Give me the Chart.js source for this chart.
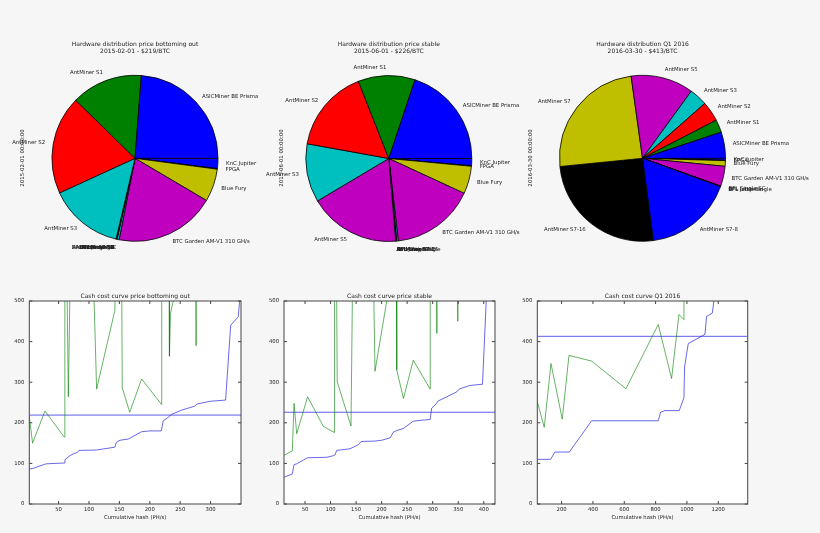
<!DOCTYPE html>
<html>
<head>
<meta charset="utf-8">
<script src="https://cdn.jsdelivr.net/npm/chart.js@4"></script>
<style>
html, body { margin: 0; padding: 0; background: #f6f6f6; }
#wrap { position: relative; width: 820px; height: 533px; overflow: hidden; }
canvas { position: absolute; }
</style>
</head>
<body>
<div id="wrap">
  <canvas id="pie1"></canvas>
  <canvas id="pie2"></canvas>
  <canvas id="pie3"></canvas>
  <canvas id="cost1"></canvas>
  <canvas id="cost2"></canvas>
  <canvas id="cost3"></canvas>
</div>
<script>
// ---- data ----
const hwLabels = ['ASICMiner BE Prisma', 'AntMiner S1', 'AntMiner S2', 'AntMiner S3', 'AntMiner S5',
  'AntMiner S7', 'AntMiner S7-16', 'AntMiner S7-8', 'BFL Jalapeno', 'BFL Little Single', 'BFL Single SC',
  'BTC Garden AM-V1 310 GH/s', 'Blue Fury', 'FPGA', 'KnC Jupiter'];

const share1 = [23.8, 13.9, 19.2, 14.5, 0, 0, 0, 0, 0.1, 0.1, 0.4, 19.6, 6.4, 0.1, 2.0];
const share2 = [19.9, 11.1, 16.2, 11.4, 17.8, 0, 0, 0, 0.1, 0.1, 0.3, 16.3, 5.4, 0.1, 1.4];
const share3 = [5.1, 2.5, 3.9, 3.5, 12.2, 24.4, 25.5, 17.4, 0.03, 0.03, 0.03, 3.9, 1.1, 0.05, 0.4];

const pieTitles = ['Hardware distribution price bottoming out', 'Hardware distribution price stable', 'Hardware distribution Q1 2016'];
const pieSubtitles = ['2015-02-01 - $219/BTC', '2015-06-01 - $226/BTC', '2016-03-30 - $413/BTC'];
const pieDates = ['2015-02-01 00:00:00', '2015-06-01 00:00:00', '2016-03-30 00:00:00'];

const cost1X = [1.8, 8.3, 27.5, 30, 59.3, 60.4, 68.6, 75, 81, 83.4, 112.5, 142.6, 145, 151, 164.6, 186.5, 200, 219, 222, 230, 236, 252, 274, 277, 299, 324.7, 333, 345.5, 348, 350];
const cost1Y = [86, 88, 98, 99, 101, 109, 119, 124, 127, 132, 133, 140, 152, 157, 160, 178, 180, 180, 205, 213, 221, 231, 241, 246, 253, 256, 440, 461, 505, 600];
const green1X = [1.8, 7.2, 27.5, 59.3, 60.3, 63.3, 66, 69.5, 106.5, 112.5, 142.6, 143, 153.6, 154.7, 167, 186.5, 219.4, 219.6, 231.8, 232.3, 234, 253, 275.8, 276, 276.3, 350];
const green1Y = [215, 150, 229, 165, 600, 600, 264, 600, 600, 283, 477, 600, 600, 286, 226, 308, 245, 600, 600, 364, 469, 600, 600, 390, 600, 600];

const cost2X = [8.8, 25.2, 28.4, 33.7, 53.3, 56.5, 92.5, 105.5, 108.8, 112, 118.6, 138, 154.5, 159.7, 187, 200, 216.6, 223, 229.6, 242.7, 262, 275, 295, 298, 304.7, 311, 327.6, 347, 351.8, 373, 397.5, 405, 422];
const cost2Y = [66, 74, 97, 99, 113, 114, 115, 119, 121, 132, 133, 136, 146, 154, 155, 157, 163, 177, 181, 186, 204, 206, 208, 236, 244, 254, 264, 276, 283, 292, 295, 505, 600];
const green2X = [8.8, 25.2, 28.4, 33.7, 55, 86, 107.5, 107.8, 111.5, 113, 140, 143.5, 183.5, 187, 214, 229, 229.6, 242.7, 262, 295, 295.2, 307.8, 308, 308.3, 348.8, 349, 349.3, 422];
const green2Y = [120, 131, 248, 173, 264, 191, 176, 600, 600, 301, 192, 600, 600, 327, 530, 600, 330, 260, 354, 283, 600, 600, 420, 600, 600, 450, 600, 600];

const cost3X = [44.7, 129.8, 157.4, 249, 391.5, 817, 832, 859.6, 951, 981, 985, 1008.5, 1115, 1125.5, 1161.7, 1174, 1388];
const cost3Y = [110, 110, 128, 128, 205, 205, 226, 230, 230, 262, 338, 395, 418, 462, 470, 505, 600];
const green3X = [44.7, 89, 132, 204, 246.8, 391.5, 610.6, 817, 902, 949, 981, 981.5, 1388];
const green3Y = [252, 189, 346, 209, 366, 352, 284, 442, 309, 467, 454, 600, 600];

const prices = [219, 226, 413];
const costTitles = ['Cash cost curve price bottoming out', 'Cash cost curve price stable', 'Cash cost curve Q1 2016'];
const xTicks1 = [50, 100, 150, 200, 250, 300];
const xTicks2 = [50, 100, 150, 200, 250, 300, 350, 400];
const xTicks3 = [200, 400, 600, 800, 1000, 1200];
const yTicks = [0, 100, 200, 300, 400, 500];

// ---- styling ----
const FONT = 'DejaVu Sans';
const mplColors = ['#0000ff', '#008000', '#ff0000', '#00bfbf', '#bf00bf', '#bfbf00', '#000000'];

function place(id, left, top, w, h) {
  const c = document.getElementById(id);
  c.width = w; c.height = h;
  c.style.left = left + 'px'; c.style.top = top + 'px';
  return c;
}

// labels, titles and rotated date for the pies
const pieText = {
  id: 'pieText',
  afterDraw(chart, args, o) {
    const ctx = chart.ctx;
    const meta = chart.getDatasetMeta(0);
    const labels = chart.data.labels;
    ctx.save();
    ctx.fillStyle = '#222';
    ctx.font = '5.4px "' + FONT + '"';
    ctx.textBaseline = 'middle';
    meta.data.forEach((arc, i) => {
      const p = arc.getProps(['x', 'y', 'startAngle', 'endAngle', 'outerRadius'], true);
      const mid = (p.startAngle + p.endAngle) / 2;
      const c = Math.cos(mid), s = Math.sin(mid);
      ctx.textAlign = c > 0 ? 'left' : 'right';
      ctx.fillText(labels[i], p.x + c * p.outerRadius * 1.1, p.y + s * p.outerRadius * 1.1);
    });
    ctx.textAlign = 'center';
    ctx.font = '6px "' + FONT + '"';
    ctx.fillText(o.title, o.cx, 14);
    ctx.fillText(o.subtitle, o.cx, 21.7);
    ctx.font = '5.4px "' + FONT + '"';
    ctx.translate(o.ylabelX, 128);
    ctx.rotate(-Math.PI / 2);
    ctx.fillText(o.ylabel, 0, 0);
    ctx.restore();
  }
};

function pieChart(id, box, values, idx) {
  const top = 30, height = 240, bw = 0.8;
  const side = 2 * box.r + bw;
  const padLeft = box.cx - box.left - side / 2;
  const padTop = box.cy - top - side / 2;
  const canvas = place(id, box.left, top, box.width, height);
  const colors = hwLabels.map((l, i) => mplColors[i % mplColors.length]);
  new Chart(canvas, {
    type: 'pie',
    data: {
      // matplotlib goes counter-clockwise from 3 o'clock, so feed the slices reversed
      labels: hwLabels.slice().reverse(),
      datasets: [{
        data: values.slice().reverse(),
        backgroundColor: colors.slice().reverse(),
        borderColor: '#000',
        borderWidth: bw,
        hoverOffset: 0
      }]
    },
    options: {
      responsive: false,
      animation: false,
      events: [],
      rotation: 90,
      layout: { padding: { left: padLeft, top: padTop, right: box.width - padLeft - side, bottom: height - padTop - side } },
      plugins: {
        legend: { display: false },
        tooltip: { enabled: false },
        pieText: {
          title: pieTitles[idx], subtitle: pieSubtitles[idx], ylabel: pieDates[idx],
          cx: box.cx - box.left, ylabelX: box.ylabelX - box.left
        }
      }
    },
    plugins: [pieText]
  });
}

pieChart('pie1', { cx: 135, cy: 158.3, r: 83, left: 0, width: 270, ylabelX: 22.7 }, share1, 0);
pieChart('pie2', { cx: 388.8, cy: 158.5, r: 83, left: 254, width: 270, ylabelX: 281.7 }, share2, 1);
pieChart('pie3', { cx: 642.5, cy: 158.3, r: 83, left: 508, width: 312, ylabelX: 531 }, share3, 2);

// white plot area, black frame with inward ticks, titles
const frame = {
  id: 'frame',
  beforeDraw(chart) {
    const a = chart.chartArea, ctx = chart.ctx;
    ctx.save();
    ctx.fillStyle = '#fff';
    ctx.fillRect(a.left, a.top, a.right - a.left, a.bottom - a.top);
    ctx.restore();
  },
  afterDraw(chart, args, o) {
    const a = chart.chartArea, ctx = chart.ctx;
    const x = chart.scales.x, y = chart.scales.y;
    ctx.save();
    ctx.strokeStyle = '#444';
    ctx.lineWidth = 1;
    ctx.strokeRect(a.left, a.top, a.right - a.left, a.bottom - a.top);
    ctx.beginPath();
    x.ticks.forEach(t => {
      const px = x.getPixelForValue(t.value);
      ctx.moveTo(px, a.bottom); ctx.lineTo(px, a.bottom - 3);
      ctx.moveTo(px, a.top); ctx.lineTo(px, a.top + 3);
    });
    y.ticks.forEach(t => {
      const py = y.getPixelForValue(t.value);
      ctx.moveTo(a.left, py); ctx.lineTo(a.left + 3, py);
      ctx.moveTo(a.right, py); ctx.lineTo(a.right - 3, py);
    });
    ctx.stroke();
    ctx.fillStyle = '#222';
    ctx.textAlign = 'center';
    ctx.textBaseline = 'middle';
    ctx.font = '6px "' + FONT + '"';
    ctx.fillText(o.title, (a.left + a.right) / 2, 11);
    ctx.font = '5.3px "' + FONT + '"';
    ctx.fillText('Cumulative hash (PH/s)', (a.left + a.right) / 2, 233);
    ctx.restore();
  }
};

// plain numbers, no thousands separator
const plainLabels = ax => { ax.ticks.forEach(t => { t.label = String(t.value); }); };

function costChart(id, box, costX, costY, gX, gY, price, xTicks, idx) {
  const top = 285, height = 248;
  const canvasLeft = Math.floor(box.left) - 29;
  const yWidth = box.left - canvasLeft;
  const width = Math.ceil(box.right - canvasLeft) + 12;
  const canvas = place(id, canvasLeft, top, width, height);
  const xMin = Math.min(...costX, ...gX), xMax = Math.max(...costX, ...gX);
  const pts = (xs, ys) => xs.map((v, i) => ({ x: v, y: ys[i] }));
  const tickFont = { family: FONT, size: 5.3 };
  new Chart(canvas, {
    type: 'line',
    data: {
      datasets: [
        { data: pts(costX, costY), borderColor: 'rgba(40,40,220,0.7)', borderWidth: 1 },
        { data: pts(gX, gY), borderColor: 'rgba(0,128,0,0.6)', borderWidth: 1 },
        { data: [{ x: xMin, y: price }, { x: xMax, y: price }], borderColor: 'rgba(40,40,230,0.75)', borderWidth: 1 }
      ]
    },
    options: {
      responsive: false,
      animation: false,
      events: [],
      elements: { point: { radius: 0 }, line: { tension: 0 } },
      layout: { padding: { left: 0, top: 16, right: width - (box.right - canvasLeft), bottom: 0 } },
      scales: {
        x: {
          type: 'linear', min: xMin, max: xMax,
          grid: { display: false, drawTicks: false },
          border: { display: false },
          ticks: { font: tickFont, color: '#222', padding: 2, maxRotation: 0, autoSkip: false },
          afterBuildTicks: ax => { ax.ticks = xTicks.map(v => ({ value: v })); },
          afterTickToLabelConversion: plainLabels,
          afterFit: ax => { ax.height = 29; }
        },
        y: {
          min: 0, max: 500,
          grid: { display: false, drawTicks: false },
          border: { display: false },
          ticks: { font: tickFont, color: '#222', padding: 5 },
          afterBuildTicks: ax => { ax.ticks = yTicks.map(v => ({ value: v })); },
          afterTickToLabelConversion: plainLabels,
          afterFit: ax => { ax.width = yWidth; }
        }
      },
      plugins: {
        legend: { display: false },
        tooltip: { enabled: false },
        frame: { title: costTitles[idx] }
      }
    },
    plugins: [frame]
  });
}

costChart('cost1', { left: 29.3, right: 241 }, cost1X, cost1Y, green1X, green1Y, prices[0], xTicks1, 0);
costChart('cost2', { left: 284, right: 495 }, cost2X, cost2Y, green2X, green2Y, prices[1], xTicks2, 1);
costChart('cost3', { left: 537.3, right: 747.7 }, cost3X, cost3Y, green3X, green3Y, prices[2], xTicks3, 2);
</script>
</body>
</html>
